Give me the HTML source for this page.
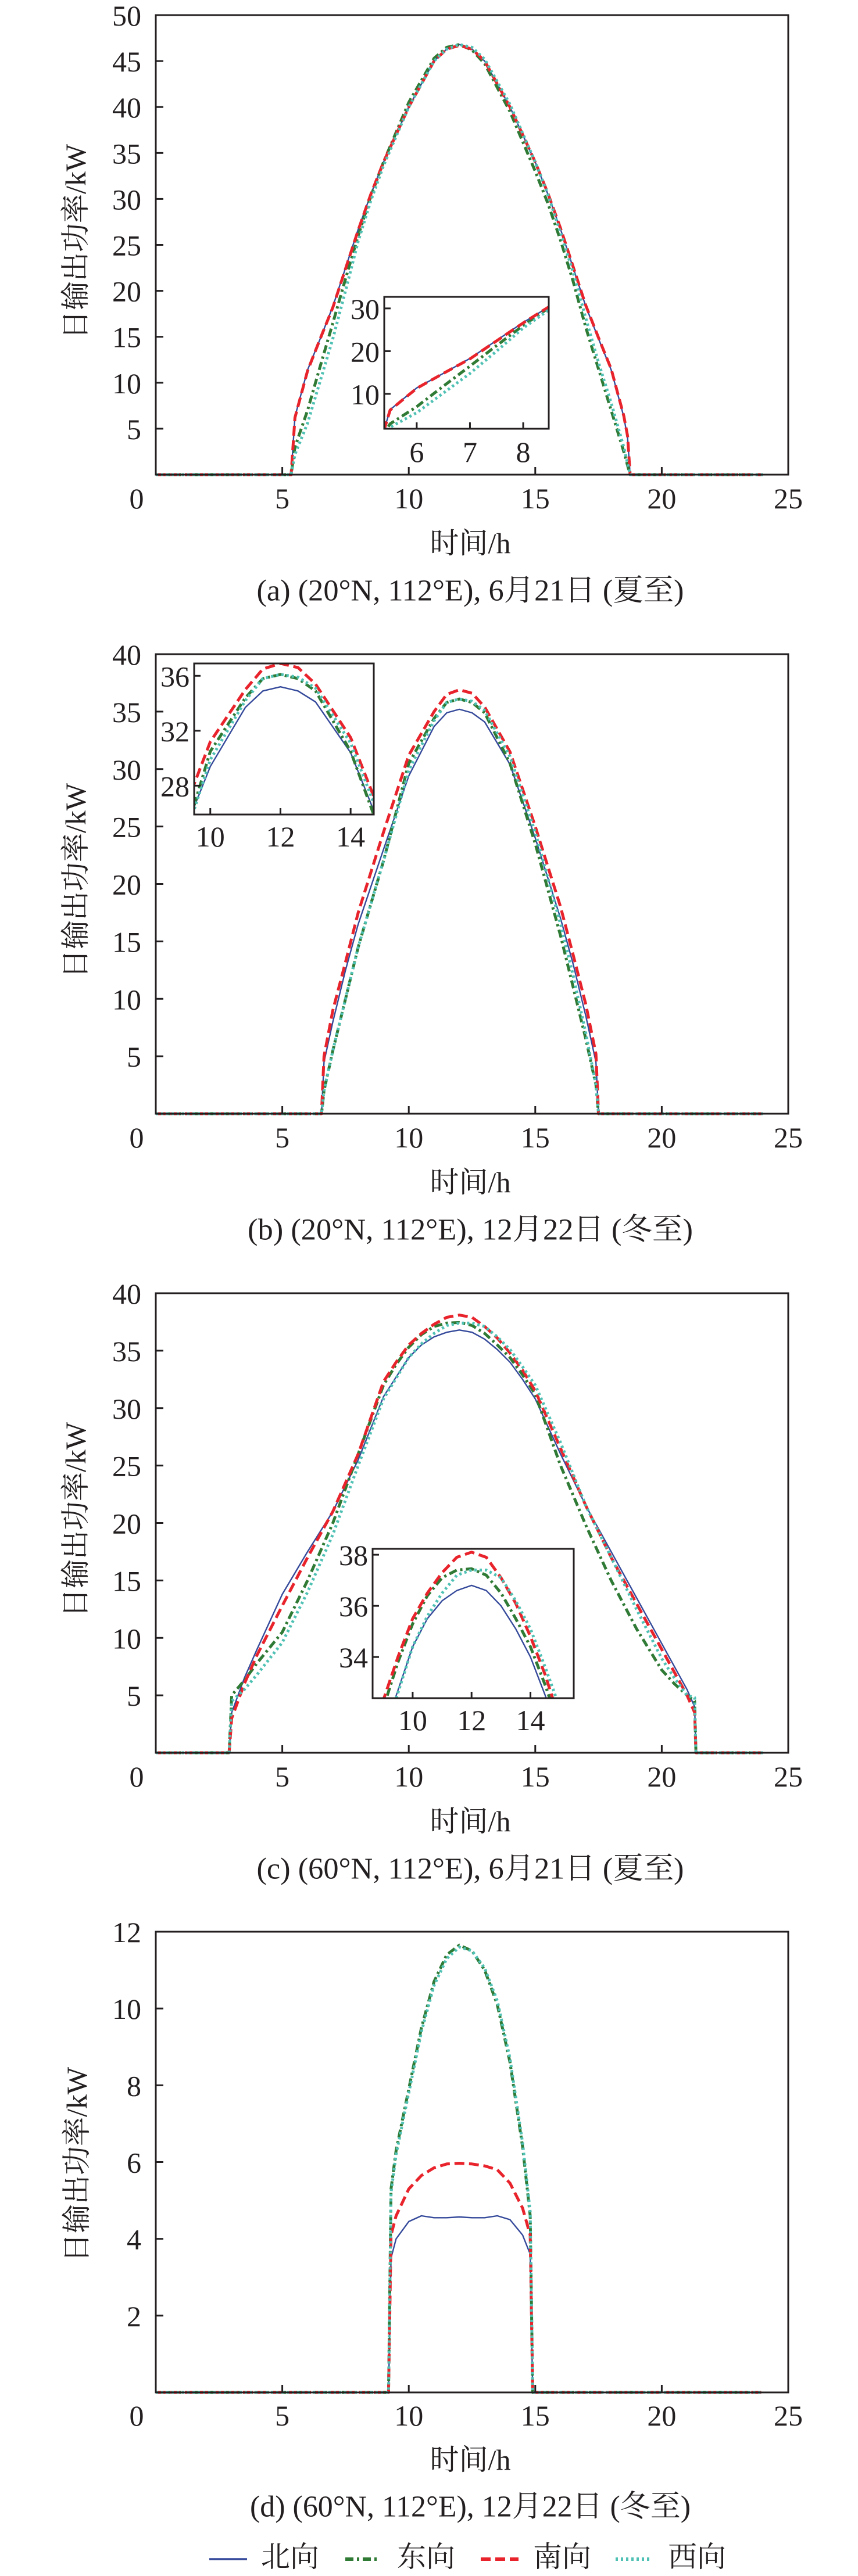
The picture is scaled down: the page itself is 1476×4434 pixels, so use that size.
<!DOCTYPE html>
<html><head><meta charset="utf-8">
<style>
html,body{margin:0;padding:0;background:#fff;}
svg{display:block;}
text{font-family:"Liberation Serif","Noto Serif CJK SC",serif;fill:#231f20;}
</style></head>
<body>
<svg id="fig" width="1476" height="4434" viewBox="0 0 1476 4434" xmlns="http://www.w3.org/2000/svg"></svg>
<script>
// ---------- chart (a) 20N summer ----------
const hoursA=[0,5.35,5.5,6,6.5,7,7.5,8,8.5,9,10,11,11.5,12,12.5,13,14,15,15.5,16,16.5,17,17.5,18,18.5,18.65,18.75,24];
const northA=[0,0,6.3,11.4,14.8,18.3,22.5,26.7,30.5,34,40,45,46.3,46.8,46.3,45,40,34,30.5,26.7,22.5,18.3,14.8,11.4,6.3,4,0,0];
const eastA=[0,0,3,7,11.8,16.5,21.3,26,30.3,34,40.5,45.3,46.5,46.8,46.2,44.7,39.5,33,29.5,25.5,21,16,11.5,7,2.5,1,0,0];
const southA=[0,0,6.2,11.3,14.8,18.2,22.4,26.6,30.5,34,40,45,46.3,46.7,46.3,45,40,34,30.6,26.8,22.6,18.4,14.9,11.5,6.4,4.2,0,0];
const westA=[0,0,2.2,5.6,10.2,14.8,20,25.4,29.8,33.6,40,45,46.3,46.8,46.5,45.2,40.3,34,30.5,26.3,22,17,12.2,7.8,3,1.2,0,0];
const yTicksA=[5,10,15,20,25,30,35,40,45,50];
// ---------- chart (b) 20N winter ----------
const hoursB=[0,6.55,6.65,7,7.5,8,9,10,11,11.5,12,12.5,13,14,15,16,16.5,17,17.4,17.5,24];
const northB=[0,0,4.5,8,12.5,16.5,23,29.4,33.7,34.9,35.2,34.9,34.1,30.4,24,17,13,8.5,4.5,0,0];
const eastB=[0,0,2,5.5,10,14.5,22,30.5,34.4,35.8,36.1,35.8,34.9,30.5,23.5,15.5,11,6.5,2.5,0,0];
const southB=[0,0,5,9,13.2,17.5,24.5,31.2,35,36.5,36.9,36.6,35.4,31.5,25,18,13.8,9.5,5.2,0,0];
const westB=[0,0,2,5.5,10,14.5,22,29.9,34.2,35.8,36.1,35.9,35.1,31.1,24.5,16.5,12,7,2.5,0,0];
const yTicksB=[5,10,15,20,25,30,35,40];
// ---------- chart (c) 60N summer ----------
const hoursC=[0,2.9,3.0,3.5,4,5,6,7,8,9,9.5,10,10.5,11,11.5,12,12.5,13,13.5,14,14.5,15,16,17,18,19,20,20.5,21,21.3,21.35,24];
const northC=[0,0,3.5,6.5,9,13.8,17.5,21,25.5,31,32.7,34.4,35.5,36.2,36.6,36.8,36.6,36.0,35.1,34.0,32.5,30.8,26,21.5,17.5,13.5,9.5,7.5,5.5,4,0,0];
const eastC=[0,0,5,6.3,7.8,10.5,15,20,26,32,33.8,35.3,36.4,37.1,37.4,37.45,37.2,36.5,35.5,34.4,32.9,31.2,25,19.8,15,10.8,7.2,6,5,4.5,0,0];
const southC=[0,0,3,6,8.5,12.8,17,21,26,32.3,34.0,35.5,36.5,37.3,37.9,38.1,37.9,37.1,36.1,34.8,33.3,31.5,26.5,21.5,17,13,9,7,5,3.5,0,0];
const westC=[0,0,4.5,5.5,6.8,9.6,14,19,25,30.8,32.6,34.4,35.6,36.5,37.2,37.4,37.4,37.1,36.2,35.1,33.6,32,27,21.5,17,12.5,8.2,6.5,5,4.8,0,0];
const yTicksC=[5,10,15,20,25,30,35,40];
// ---------- chart (d) 60N winter ----------
const hoursD=[0,9.2,9.3,9.5,10,10.5,11,11.5,12,12.5,13,13.5,14,14.5,14.8,14.9,24];
const northD=[0,0,3.5,4.0,4.45,4.6,4.55,4.55,4.57,4.55,4.55,4.6,4.5,4.1,3.6,0,0];
const eastD=[0,0,5.3,6.3,7.9,9.5,10.7,11.4,11.65,11.5,11.0,10.1,8.6,6.4,4.6,0,0];
const southD=[0,0,4.1,4.6,5.3,5.65,5.85,5.95,5.97,5.95,5.9,5.8,5.45,4.8,4.1,0,0];
const westD=[0,0,5.2,6.2,7.8,9.4,10.6,11.3,11.6,11.5,11.05,10.2,8.7,6.5,4.7,0,0];
const yTicksD=[2,4,6,8,10,12];
const xTicks=[0,5,10,15,20,25];
const legendNames=["北向","东向","南向","西向"];

const NS="http://www.w3.org/2000/svg";
const svg=document.getElementById('fig');
const STY=[
 {c:"#34499a",w:2.4,d:""},
 {c:"#2f7a35",w:5,d:"14,6,4,6"},
 {c:"#e8232b",w:5,d:"17,8"},
 {c:"#4fc1b4",w:5,d:"4,5"}
];
function el(tag,attrs,parent){const e=document.createElementNS(NS,tag);for(const k in attrs)e.setAttribute(k,attrs[k]);(parent||svg).appendChild(e);return e;}
function txt(s,x,y,size,anchor,parent,extra){const t=el('text',Object.assign({x:x,y:y,'font-size':size,'text-anchor':anchor||'middle','dominant-baseline':'central'},extra||{}),parent);t.textContent=s;return t;}

function drawSeries(g,hours,vals,sx,sy,st){
  let d="";
  for(let i=0;i<hours.length;i++){d+=(i?"L":"M")+sx(hours[i]).toFixed(1)+","+sy(vals[i]).toFixed(1);}
  const p=el('path',{d:d,fill:'none',stroke:st.c,'stroke-width':st.w,'stroke-dasharray':st.d,'stroke-linejoin':'round'},g);
  return p;
}

let clipId=0;
function chart(cfg){
  const g=el('g',{});
  
  
  const L=268,R=1356,T=cfg.off+26,B=cfg.off+817;
  const sx=h=>L+(h/25)*(R-L);
  const sy=v=>B-(v/cfg.ymax)*(B-T);
  // series
  const sg=el('g',{},g);
  
  
  cfg.series.forEach((s,i)=>{
    const p=drawSeries(sg,cfg.hours,s,sx,sy,STY[i]);
    
    
  });
  // frame
  const fr=el('rect',{x:L,y:T,width:R-L,height:B-T,fill:'none',stroke:'#231f20','stroke-width':3},g);
  
  
  // y ticks
  cfg.yticks.forEach(v=>{
    el('line',{x1:L,x2:L+13,y1:sy(v),y2:sy(v),stroke:'#231f20','stroke-width':3},g);
    const t=txt(String(v),243,sy(v)+1,50,'end',g);
    
    
  });
  xTicks.forEach(v=>{
    if(v>0&&v<25) el('line',{x1:sx(v),x2:sx(v),y1:B,y2:B-13,stroke:'#231f20','stroke-width':3},g);
    const t=txt(String(v),v===0?235:sx(v),B+41,50,'middle',g);
    
    
  });
  const xt=txt("时间/h",809,B+118,50,'middle',g);
  
  
  const yt=txt("日输出功率/kW",0,0,50,'middle',g,{transform:`translate(130,${cfg.off+416}) rotate(-90)`});
  
  
  const cap=txt(cfg.caption,809,B+200,52,'middle',g,{textLength:cfg.capLen,lengthAdjust:'spacingAndGlyphs'});
  
  
  // inset
  const I=cfg.inset;
  const ig=el('g',{},g);
  
  
  const iT=cfg.off+I.t,iB=cfg.off+I.b;
  const isx=h=>I.l+(h-I.x0)/(I.x1-I.x0)*(I.r-I.l);
  const isy=v=>iB-(v-I.y0)/(I.y1-I.y0)*(iB-iT);
  el('rect',{x:I.l,y:iT,width:I.r-I.l,height:iB-iT,fill:'#fff'},ig);
  const id='clip'+(clipId++);
  const cp=el('clipPath',{id:id},ig);
  el('rect',{x:I.l,y:iT,width:I.r-I.l,height:iB-iT},cp);
  const icg=el('g',{'clip-path':`url(#${id})`},ig);
  cfg.series.forEach((s,i)=>{
    const p=drawSeries(icg,cfg.hours,s,isx,isy,STY[i]);
    
    
  });
  el('rect',{x:I.l,y:iT,width:I.r-I.l,height:iB-iT,fill:'none',stroke:'#231f20','stroke-width':3},ig);
  I.xt.forEach(v=>{
    el('line',{x1:isx(v),x2:isx(v),y1:iB,y2:iB-11,stroke:'#231f20','stroke-width':3},ig);
    const t=txt(String(v),isx(v),iB+I.xlOff,50,'middle',ig);
    
    
  });
  I.yt.forEach(v=>{
    el('line',{x1:I.l,x2:I.l+11,y1:isy(v),y2:isy(v),stroke:'#231f20','stroke-width':3},ig);
    const t=txt(String(v),I.l-8,isy(v)+1,50,'end',ig);
    
    
  });
}

chart({name:'chart-a',off:0,ymax:50,hours:hoursA,series:[northA,eastA,southA,westA],yticks:yTicksA,
 caption:"(a) (20°N, 112°E), 6月21日 (夏至)",capLen:735,
 inset:{l:661,r:944,t:511,b:738,x0:5.39,x1:8.48,y0:1.84,y1:32.7,xt:[6,7,8],yt:[10,20,30],xlOff:40}});
chart({name:'chart-b',off:1100,ymax:40,hours:hoursB,series:[northB,eastB,southB,westB],yticks:yTicksB,
 caption:"(b) (20°N, 112°E), 12月22日 (冬至)",capLen:766,
 inset:{l:334,r:643,t:42,b:302,x0:9.54,x1:14.66,y0:25.9,y1:36.9,xt:[10,12,14],yt:[28,32,36],xlOff:38}});
chart({name:'chart-c',off:2200,ymax:40,hours:hoursC,series:[northC,eastC,southC,westC],yticks:yTicksC,
 caption:"(c) (60°N, 112°E), 6月21日 (夏至)",capLen:735,
 inset:{l:641,r:987,t:466,b:723,x0:8.64,x1:15.47,y0:32.39,y1:38.23,xt:[10,12,14],yt:[34,36,38],xlOff:38}});

// chart d (no inset)
(function(){
  const off=3300;
  const g=el('g',{});
  
  
  const L=268,R=1356,T=off+25,B=off+818;
  const sx=h=>L+(h/25)*(R-L);
  const sy=v=>B-(v/12)*(B-T);
  [northD,eastD,southD,westD].forEach((s,i)=>{
    const p=drawSeries(g,hoursD,s,sx,sy,STY[i]);
    
    
  });
  const fr=el('rect',{x:L,y:T,width:R-L,height:B-T,fill:'none',stroke:'#231f20','stroke-width':3},g);
  
  
  yTicksD.forEach(v=>{
    el('line',{x1:L,x2:L+13,y1:sy(v),y2:sy(v),stroke:'#231f20','stroke-width':3},g);
    const t=txt(String(v),243,sy(v)+1,50,'end',g);
    
    
  });
  xTicks.forEach(v=>{
    if(v>0&&v<25) el('line',{x1:sx(v),x2:sx(v),y1:B,y2:B-13,stroke:'#231f20','stroke-width':3},g);
    const t=txt(String(v),v===0?235:sx(v),B+40,50,'middle',g);
    
    
  });
  const xt=txt("时间/h",809,off+934,50,'middle',g);
  
  
  const yt=txt("日输出功率/kW",0,0,50,'middle',g,{transform:`translate(132,${off+426}) rotate(-90)`});
  
  
  const cap=txt("(d) (60°N, 112°E), 12月22日 (冬至)",809,off+1015,52,'middle',g,{textLength:758,lengthAdjust:'spacingAndGlyphs'});
  
  
  // legend
  const lg=el('g',{},g);
  
  
  const lx=[[360,425,449],[594,653,683],[827,892,917],[1059,1120,1149]];
  legendNames.forEach((n,i)=>{
    const ln=el('line',{x1:lx[i][0],x2:lx[i][1],y1:4405,y2:4405,stroke:STY[i].c,'stroke-width':i===0?3.5:6,'stroke-dasharray':STY[i].d},lg);
    
    
    const t=txt(n,lx[i][2],4401,50,'start',lg,{textLength:100,lengthAdjust:'spacingAndGlyphs'});
    
    
  });
})();
</script>
</body></html>
